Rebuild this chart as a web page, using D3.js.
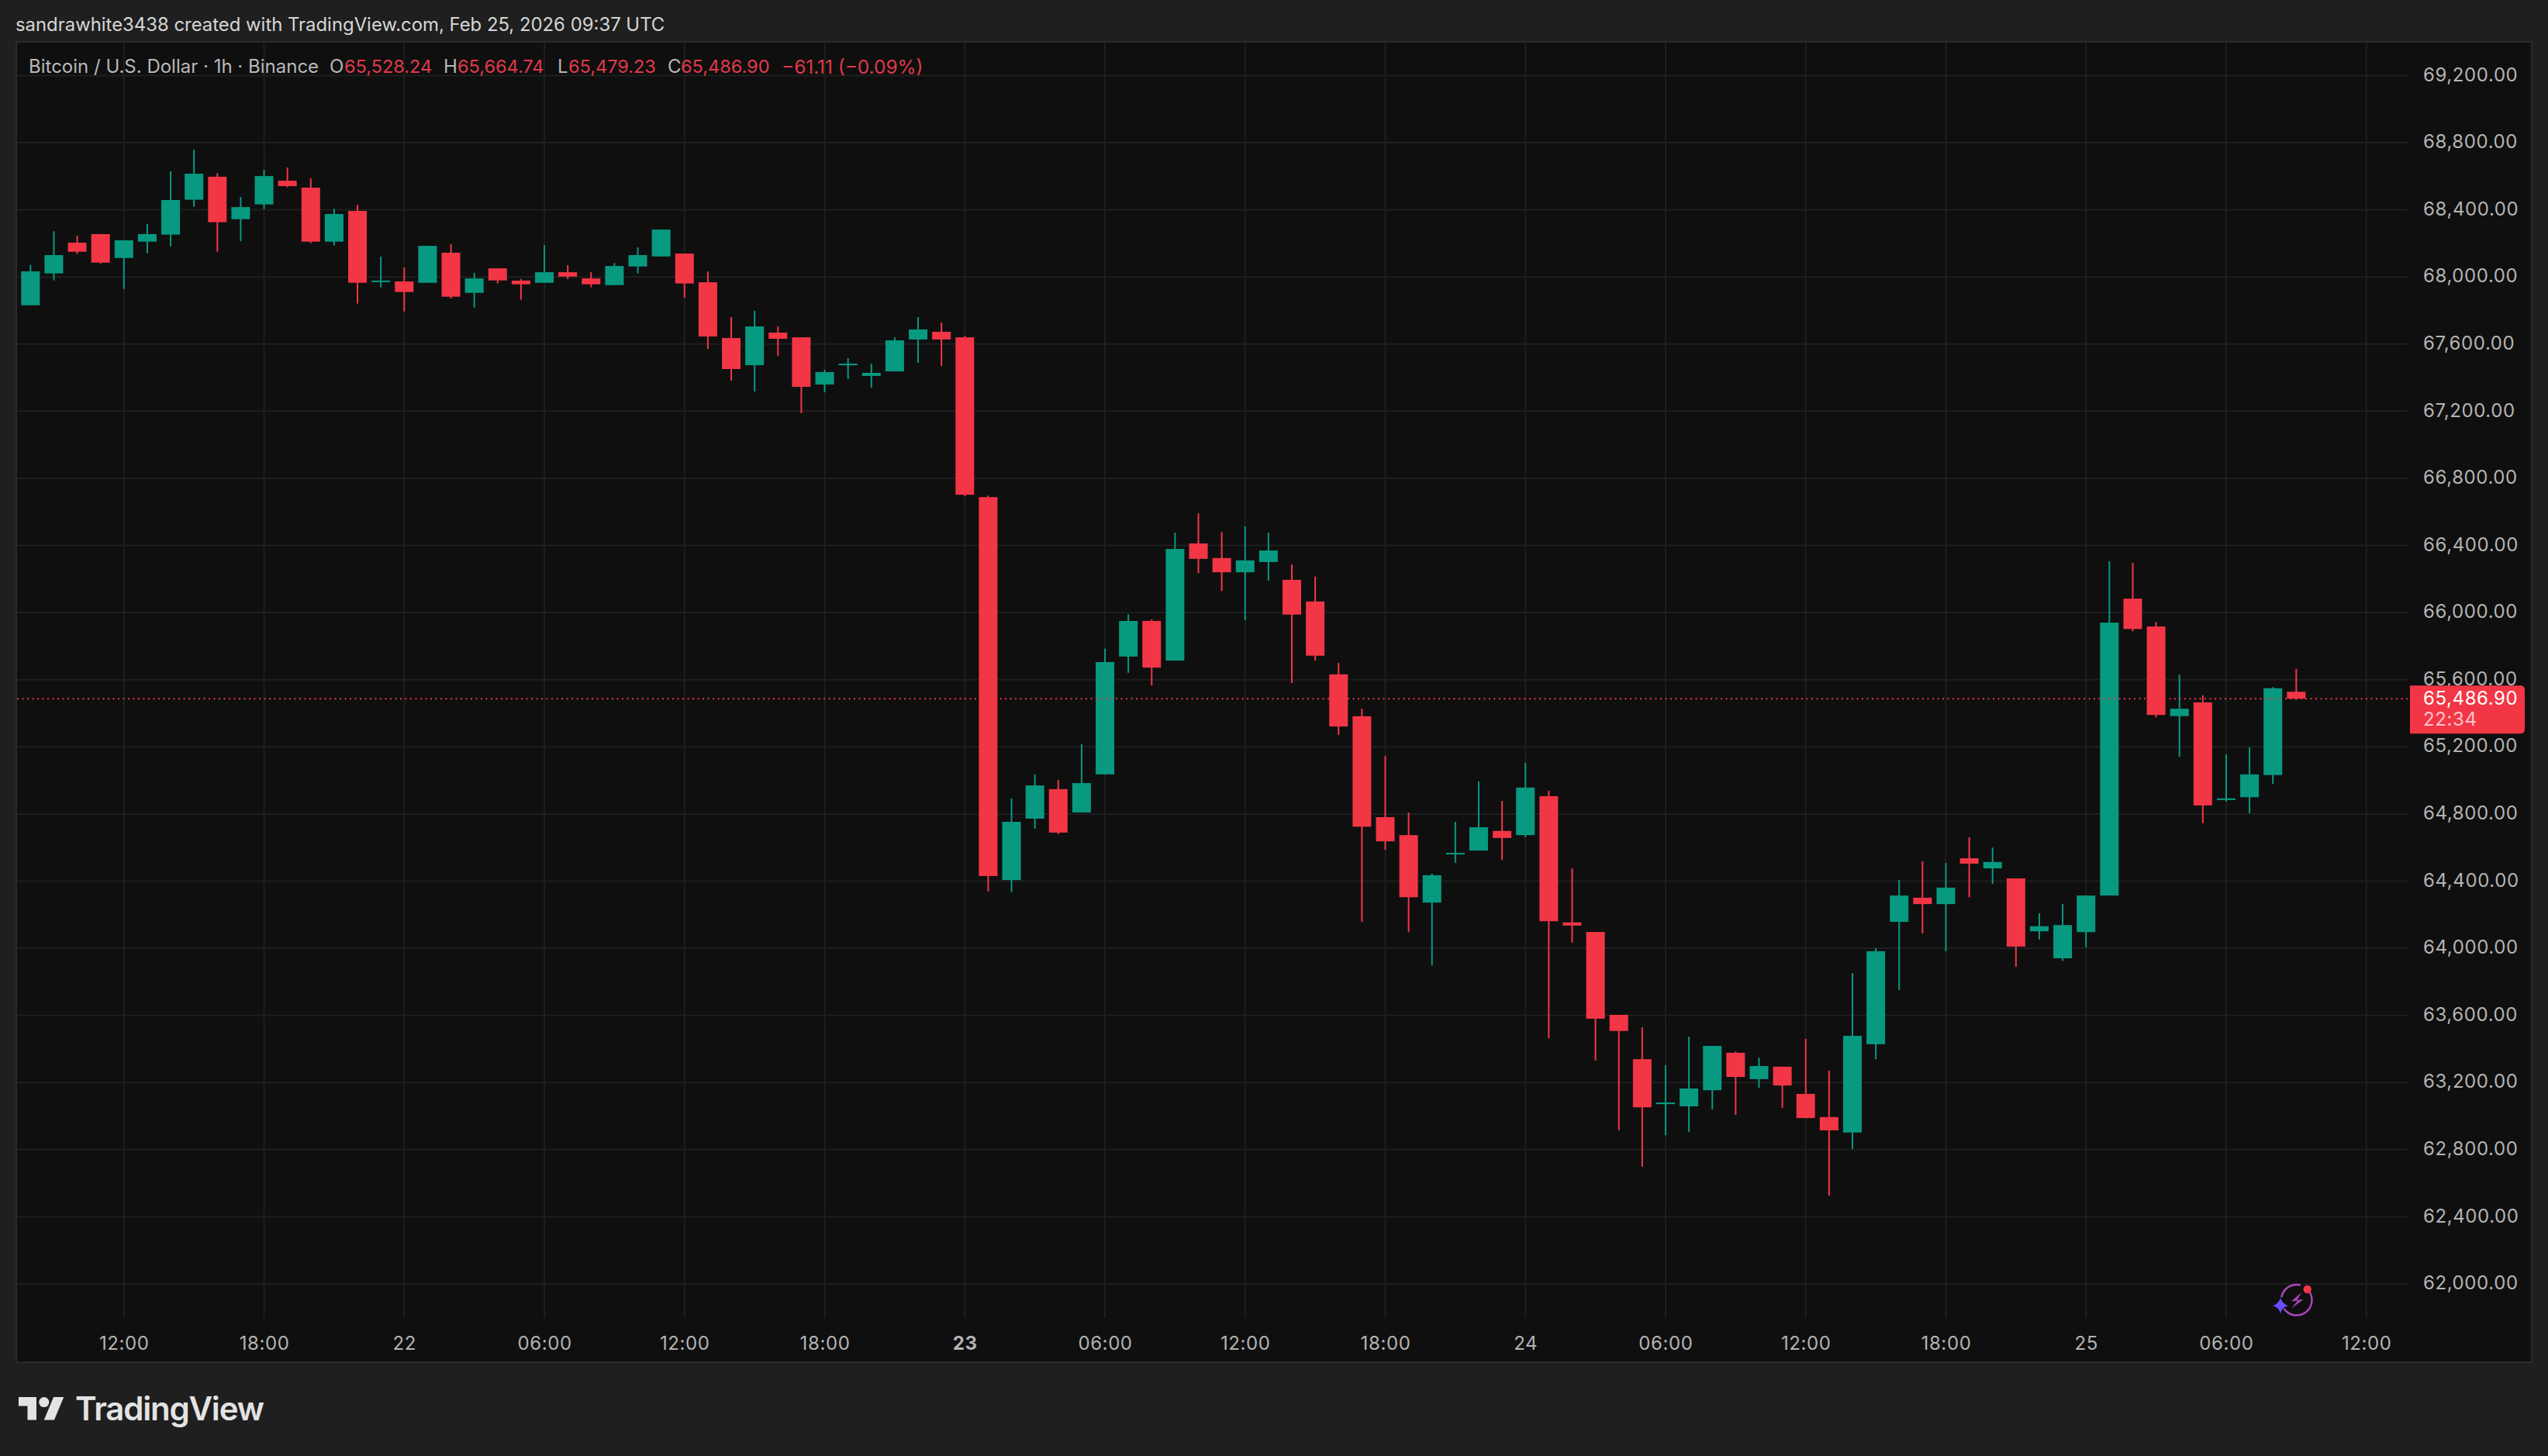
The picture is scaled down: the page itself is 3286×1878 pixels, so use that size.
<!DOCTYPE html>
<html>
<head>
<meta charset="utf-8">
<script src="https://cdn.jsdelivr.net/npm/d3@7"></script>
<style>
html,body{margin:0;padding:0;background:#1f1f1f;overflow:hidden}
svg{display:block}
text{font-family:Inter,"Noto Sans",sans-serif}
</style>
</head>
<body>
<div id="chart"></div>
<script>
// Hourly Bitcoin candles, Feb 21 08:00 UTC to Feb 25 09:00 UTC
const opens = [67831,68021,68204,68255,68113,68210,68252,68460,68597,68344,68432,68573,68532,68210,68393,67970,67973,67965,68144,67905,68051,67978,67965,68028,67991,67951,68062,68122,68139,67968,67636,67474,67668,67640,67359,67474,67410,67437,67627,67673,67640,66688,64406,64772,64948,64809,65036,65738,65950,65714,66412,66325,66240,66301,66195,66066,65632,65382,64781,64674,64272,64559,64582,64699,64674,64906,64154,64097,63603,63339,63071,63058,63154,63377,63220,63294,63132,62994,62902,63428,64157,64301,64263,64536,64476,64416,64101,63940,64096,64314,66083,65917,65383,65465,64883,64900,65032,65528.24];
const highs = [68071,68272,68246,68256,68218,68315,68629,68758,68618,68476,68638,68652,68587,68406,68429,68121,68056,68185,68195,68024,68051,67987,68190,68070,68030,68082,68176,68282,68139,68033,67761,67798,67705,67640,67447,67516,67483,67640,67761,67728,67649,66697,64892,65036,65003,65215,65785,65990,65959,66476,66591,66480,66513,66476,66287,66214,65700,65427,65145,64808,64444,64753,64993,64878,65104,64938,64476,64097,63603,63529,63303,63473,63418,63384,63348,63294,63460,63271,63852,64001,64406,64518,64508,64661,64600,64416,64208,64264,64314,66306,66296,65945,65630,65507,65155,65197,65556,65664.74];
const lows = [67831,67979,68136,68079,67928,68141,68182,68418,68150,68213,68404,68534,68201,68187,67841,67938,67794,67965,67871,67817,67961,67864,67965,67988,67938,67951,68021,68122,67877,67571,67382,67317,67530,67188,67312,67391,67340,67437,67488,67470,66693,64338,64335,64713,64680,64809,65036,65641,65566,65714,66235,66129,65955,66190,65580,65714,65271,64157,64587,64097,63899,64508,64582,64527,64661,63463,64033,63330,62915,62698,62886,62905,63039,63007,63169,63049,62988,62526,62803,63339,63750,64088,63982,64304,64384,63890,64052,63925,64005,64314,65888,65375,65140,64745,64873,64804,64980,65479.23];
const closes = [68033,68130,68150,68085,68218,68255,68458,68615,68326,68416,68601,68541,68210,68375,67965,67978,67910,68185,67882,67991,67979,67956,68028,68002,67956,68065,68130,68282,67961,67645,67451,67705,67631,67345,67433,67483,67428,67622,67687,67627,66702,64430,64753,64970,64689,64984,65705,65950,65672,66379,66320,66240,66311,66370,65988,65743,65321,64724,64637,64304,64435,64568,64721,64657,64957,64161,64135,63580,63507,63052,63081,63164,63418,63233,63298,63182,62988,62915,63478,63982,64314,64263,64361,64504,64514,64010,64131,64138,64314,65940,65902,65390,65427,64851,64893,65036,65549,65486.90];

const priceTicks = [62000,62400,62800,63200,63600,64000,64400,64800,65200,65600,66000,66400,66800,67200,67600,68000,68400,68800,69200];
const timeTicks = ["2026-02-21T12:00Z","2026-02-21T18:00Z","2026-02-22T00:00Z","2026-02-22T06:00Z","2026-02-22T12:00Z","2026-02-22T18:00Z","2026-02-23T00:00Z","2026-02-23T06:00Z","2026-02-23T12:00Z","2026-02-23T18:00Z","2026-02-24T00:00Z","2026-02-24T06:00Z","2026-02-24T12:00Z","2026-02-24T18:00Z","2026-02-25T00:00Z","2026-02-25T06:00Z","2026-02-25T12:00Z"];
const timeLabels = ["12:00","18:00","22","06:00","12:00","18:00","23","06:00","12:00","18:00","24","06:00","12:00","18:00","25","06:00","12:00"];
const firstCandle = "2026-02-21T08:00Z";
const lastPrice = 65486.90;
const countdown = "22:34";
const creditText = "sandrawhite3438 created with TradingView.com, Feb 25, 2026 09:37 UTC";
const legendTitle = "Bitcoin / U.S. Dollar · 1h · Binance";
const legendLetters = ["O","H","L","C"];
const legendValues = ["65,528.24","65,664.74","65,479.23","65,486.90"];
const legendChange = "−61.11 (−0.09%)";

const W = 3286, H = 1878;
const RED = "#f23645", GREEN = "#089981", GRID = "#1f1f1f", PANE = "#0f0f0f", AXIS = "#b4b4b4";
const pane = {l:21, t:54, r:3265, b:1757};
const plot = {r:3105, b:1700};

const svg = d3.select("#chart").append("svg").attr("width",W).attr("height",H).attr("viewBox",[0,0,W,H]);
svg.append("rect").attr("width",W).attr("height",H).attr("fill","#1f1f1f");
svg.append("rect").attr("x",pane.l).attr("y",pane.t).attr("width",pane.r-pane.l).attr("height",pane.b-pane.t)
  .attr("fill",PANE).attr("stroke","#2a2a2a").attr("stroke-width",2);

const parseT = d3.isoParse;
const x = d3.scaleUtc().domain([parseT("2026-02-21T12:00Z"),parseT("2026-02-25T12:00Z")]).range([159.8,3051.7]);
const y = d3.scaleLinear().domain([62000,69200]).range([1656,97.4]);
const HOUR = 3600000;
const candles = opens.map((o,i)=>({t:new Date(+parseT(firstCandle)+i*HOUR),o,h:highs[i],l:lows[i],c:closes[i]}));

// Grid
const grid = svg.append("g");
grid.selectAll("line.v").data(timeTicks).join("line").attr("class","v")
  .attr("x1",d=>x(parseT(d))).attr("x2",d=>x(parseT(d))).attr("y1",pane.t+1).attr("y2",plot.b)
  .attr("stroke",GRID).attr("stroke-width",2);
grid.selectAll("line.h").data(priceTicks).join("line").attr("class","h")
  .attr("x1",pane.l+1).attr("x2",plot.r).attr("y1",d=>y(d)).attr("y2",d=>y(d))
  .attr("stroke",GRID).attr("stroke-width",2);

// Axes
const yAxis = d3.axisRight(y).tickValues(priceTicks).tickSize(0).tickPadding(0).tickFormat(d3.format(",.2f"));
const gy = svg.append("g").attr("transform",`translate(3125,-1)`).call(yAxis);
gy.select(".domain").remove();
gy.selectAll("text").attr("fill",AXIS).attr("font-size",24).attr("letter-spacing",0.6).style("font-family","Inter");

const xAxis = d3.axisBottom(x).tickValues(timeTicks.map(parseT)).tickSize(0).tickPadding(0).tickFormat((d,i)=>timeLabels[i]);
const gx = svg.append("g").attr("transform",`translate(0,1724)`).call(xAxis);
gx.select(".domain").remove();
gx.selectAll("text").attr("fill",AXIS).attr("font-size",24).attr("letter-spacing",0.6).style("font-family","Inter")
  .attr("font-weight",(d,i)=>timeLabels[i]==="23"?700:400);

// Candles
const bodyW = 24, wickW = 2;
const gc = svg.append("g");
const color = d=>d.c>=d.o?GREEN:RED;
gc.selectAll("rect.wick").data(candles).join("rect").attr("class","wick")
  .attr("x",d=>x(d.t)-wickW/2).attr("width",wickW)
  .attr("y",d=>y(d.h)).attr("height",d=>Math.max(1,y(d.l)-y(d.h))).attr("fill",color);
gc.selectAll("rect.body").data(candles).join("rect").attr("class","body")
  .attr("x",d=>x(d.t)-bodyW/2).attr("width",bodyW)
  .attr("y",d=>y(Math.max(d.o,d.c))).attr("height",d=>Math.max(2,Math.abs(y(d.o)-y(d.c)))).attr("fill",color);

// Last price line
svg.append("line").attr("x1",pane.l+1).attr("x2",plot.r).attr("y1",y(lastPrice)).attr("y2",y(lastPrice))
  .attr("stroke",RED).attr("stroke-width",2).attr("stroke-dasharray","2 4.5");

// Last price label
const ly = y(lastPrice);
const labelPath = d3.path();
labelPath.moveTo(3108,ly-17);
labelPath.lineTo(3251,ly-17);
labelPath.arcTo(3256,ly-17,3256,ly-12,5);
labelPath.lineTo(3256,ly+40);
labelPath.arcTo(3256,ly+45,3251,ly+45,5);
labelPath.lineTo(3108,ly+45);
labelPath.closePath();
svg.append("path").attr("d",labelPath.toString()).attr("fill",RED);
svg.append("text").attr("x",3125).attr("y",ly-1).attr("dy","0.35em").attr("fill","#ffffff").attr("font-size",24).attr("letter-spacing",0.6).text(d3.format(",.2f")(lastPrice));
svg.append("text").attr("x",3125).attr("y",ly+26).attr("dy","0.35em").attr("fill","#fbc4ca").attr("font-size",24).attr("letter-spacing",0.6).text(countdown);

// Header credit
svg.append("text").attr("x",20).attr("y",32).attr("dy","0.35em").attr("fill","#d6d6d6").attr("font-size",23.88).text(creditText);

// Legend
const legendY = 86, LEG = "#b8b8b8", LEGV = "#e03a49";
svg.append("text").attr("x",37).attr("y",legendY).attr("dy","0.35em").attr("fill",LEG).attr("font-size",24).text(legendTitle);
const letterX = [425,572,719,861], valueX = [444,590,733,878];
legendLetters.forEach((s,i)=>{
  svg.append("text").attr("x",letterX[i]).attr("y",legendY).attr("dy","0.35em").attr("fill",LEG).attr("font-size",24).text(s);
  svg.append("text").attr("x",valueX[i]).attr("y",legendY).attr("dy","0.35em").attr("fill",LEGV).attr("font-size",23.5).text(legendValues[i]);
});
svg.append("text").attr("x",1008).attr("y",legendY).attr("dy","0.35em").attr("fill",LEGV).attr("font-size",24.4).text(legendChange);

// TradingView logo
const logo = svg.append("g").attr("transform","translate(24,1795.4) scale(1.64)").attr("fill","#e3e3e3");
logo.append("path").attr("d","M14 22H7V11H0V4h14v18zM28 22h-8l7.5-18h8L28 22z");
logo.append("circle").attr("cx",20).attr("cy",8).attr("r",4);
svg.append("text").attr("x",97).attr("y",1832).attr("fill","#e3e3e3").attr("font-size",42).attr("font-weight",600).attr("letter-spacing",-1.2).text("TradingView");

// Snapshot badge
const badge = svg.append("g").attr("transform","translate(2961.7,1676.7)");
const ring = d3.arc().innerRadius(18.5).outerRadius(21);
const rad = d=>d*Math.PI/180;
badge.append("path").attr("d",ring({startAngle:rad(-80),endAngle:rad(15)})).attr("fill","#ab47bc");
badge.append("path").attr("d",ring({startAngle:rad(55),endAngle:rad(235)})).attr("fill","#ab47bc");
badge.append("path").attr("d","M6.7,-10L-6.7,1.7L1.7,0.7L-6.7,10.7L9,-0.7L0.7,0Z").attr("fill","#ab47bc");
badge.append("circle").attr("cx",14).attr("cy",-13.7).attr("r",5.2).attr("fill",RED);
badge.append("path").attr("transform","translate(-20.7,7.3)").attr("d","M0,-10.5Q2,-2 10,0Q2,2 0,10.5Q-2,2 -10,0Q-2,-2 0,-10.5Z").attr("fill","#6a4dff");
</script>
</body>
</html>
